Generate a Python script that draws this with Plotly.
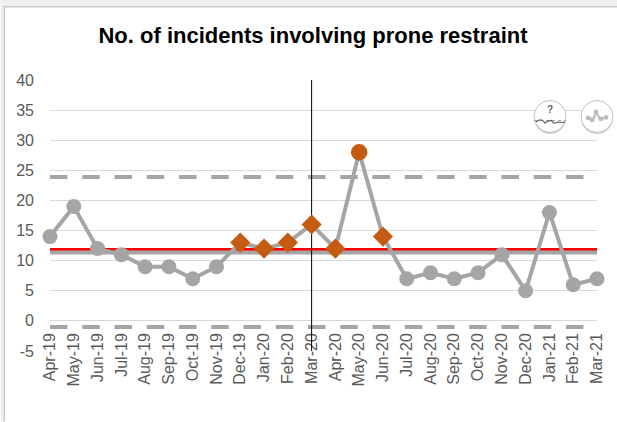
import plotly.graph_objects as go

months = ["Apr-19","May-19","Jun-19","Jul-19","Aug-19","Sep-19","Oct-19","Nov-19","Dec-19","Jan-20","Feb-20","Mar-20",
          "Apr-20","May-20","Jun-20","Jul-20","Aug-20","Sep-20","Oct-20","Nov-20","Dec-20","Jan-21","Feb-21","Mar-21"]
incidents = [14,19,12,11,9,9,7,9,13,12,13,16,12,28,14,7,8,7,8,11,5,18,6,7]
signal = ["n","n","n","n","n","n","n","n","d","d","d","d","d","c","d","n","n","n","n","n","n","n","n","n"]
mean_value = [11.35]*24
target_value = [11.85]*24
upper_limit = [23.9]*24
lower_limit = [-1]*24
change_month = "Mar-20"
change_span = [-5, 40]
y_ticks = [-5,0,5,10,15,20,25,30,35,40]
y_tick_labels = ["-5","0","5","10","15","20","25","30","35","40"]

W, H = 617, 422
L, R, T, B = 49.5, 597, 80, 351.3
GRAY, ORANGE = "#A5A5A5", "#C55A11"
FONT = "Liberation Sans, Arial, sans-serif"

def px(x): return (x - L) / (R - L)
def py(y): return (B - y) / (B - T)

symbols = {"n": "circle", "d": "diamond", "c": "circle"}
colors = {"n": GRAY, "d": ORANGE, "c": ORANGE}
sizes = {"n": 15, "d": 15.5, "c": 16.5}

fig = go.Figure()
fig.add_trace(go.Scatter(x=months, y=target_value, mode="lines", line=dict(color="#FF0000", width=3.2), hoverinfo="skip"))
fig.add_trace(go.Scatter(x=months, y=mean_value, mode="lines", line=dict(color=GRAY, width=4), hoverinfo="skip"))
dash = "17.5px,14.75px"
fig.add_trace(go.Scatter(x=months, y=upper_limit, mode="lines", line=dict(color=GRAY, width=4, dash=dash), hoverinfo="skip"))
fig.add_trace(go.Scatter(x=months, y=lower_limit, mode="lines", line=dict(color=GRAY, width=4, dash=dash), hoverinfo="skip"))
fig.add_trace(go.Scatter(x=[change_month, change_month], y=change_span, mode="lines", line=dict(color="#000000", width=1), hoverinfo="skip"))
fig.add_trace(go.Scatter(
    x=months, y=incidents, mode="lines+markers", cliponaxis=False,
    line=dict(color=GRAY, width=4),
    marker=dict(symbol=[symbols[s] for s in signal], color=[colors[s] for s in signal],
                size=[sizes[s] for s in signal], opacity=1, line=dict(width=0)),
))

def rect(x0, y0, x1, y1, fill):
    return dict(type="rect", xref="paper", yref="paper", x0=px(x0), x1=px(x1), y0=py(y0), y1=py(y1),
                fillcolor=fill, line=dict(width=0), layer="below")

def circle(cx, cy, r, fill, line, width=1):
    return dict(type="circle", xref="paper", yref="paper", x0=px(cx-r), x1=px(cx+r), y0=py(cy-r), y1=py(cy+r),
                fillcolor=fill, line=dict(color=line, width=width), layer="above")

def path(points, color, width, dash_style="solid"):
    d = "M " + " L ".join(f"{px(x):.5f} {py(y):.5f}" for x, y in points)
    return dict(type="path", xref="paper", yref="paper", path=d, line=dict(color=color, width=width, dash=dash_style), layer="above")

shapes = [
    rect(0, 0, W, 6, "#EFEFEF"), rect(0, 0, 3, H, "#EFEFEF"),
    rect(3, 6, W, 7.5, "#C8C8C8"), rect(3, 6, 4.5, H, "#C8C8C8"),
]
for cx in (550, 597):
    shapes += [circle(cx, 118, 16, "#D0D0D0", "rgba(0,0,0,0)"), circle(cx, 116.5, 16, "#FFFFFF", "#BFBFBF", 1)]
shapes += [
    path([(534, 120.5), (566, 120.5)], "#888888", 0.8, "dot"),
    path([(536, 122), (539, 120), (542, 120), (545, 123), (548, 121), (551, 120.5), (554, 123.5), (558, 122), (562, 122.5), (565, 122)], "#555555", 1.1),
    path([(587, 119), (590, 118), (593, 120), (596, 112), (600, 119), (603, 118), (607, 117.5)], "#BDBDBD", 2.2),
]
for mx, my in [(588, 118), (592, 120), (596, 112), (601, 119), (606, 117.5)]:
    shapes.append(circle(mx, my, 2.4, "#BDBDBD", "#BDBDBD", 0))

fig.update_layout(
    width=W, height=H, autosize=False,
    margin=dict(l=L, r=W-R, t=T, b=H-B, pad=0),
    paper_bgcolor="#FFFFFF", plot_bgcolor="rgba(0,0,0,0)",
    showlegend=False,
    font=dict(family=FONT, color="#595959", size=16),
    title=dict(text="<b>No. of incidents involving prone restraint</b>", x=313/W, xanchor="center",
               y=1-35/H, yanchor="middle", font=dict(family=FONT, size=22, color="#000000")),
    xaxis=dict(type="category", categoryorder="array", categoryarray=months, range=[0, 23], anchor="y", position=0,
               showgrid=False, zeroline=False, showline=False, ticks="", tickangle=-90,
               tickmode="array", tickvals=months, ticktext=months, tickfont=dict(size=16, color="#595959"),
               ticklabelstandoff=-22, layer="below traces"),
    yaxis=dict(range=[-5, 40], tickmode="array", tickvals=y_ticks, ticktext=y_tick_labels, showgrid=True,
               gridcolor="#D9D9D9", gridwidth=1.3, zeroline=False, showline=False, ticks="",
               ticklabelstandoff=15, tickfont=dict(size=16, color="#595959")),
    shapes=shapes,
    annotations=[dict(text="<b>?</b>", xref="paper", yref="paper", x=px(550), y=py(110), yanchor="middle", xanchor="center",
                      showarrow=False, font=dict(family=FONT, size=10, color="#666666"))],
)
fig.write_html("out.html", config={"displayModeBar": False},
               post_script="document.body.style.margin='0';document.documentElement.style.overflow='hidden';")
